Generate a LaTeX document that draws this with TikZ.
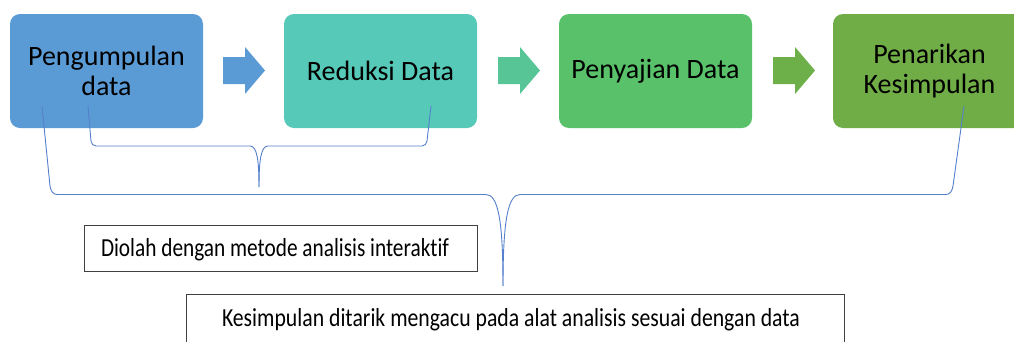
\documentclass[tikz,border=0pt]{standalone}
\usepackage{fontspec}
\usepackage{graphicx}
\setmainfont{Carlito}
\newfontfamily\noligfont[Ligatures=NoCommon]{Carlito}
\definecolor{cblue}{HTML}{5B9BD5}
\definecolor{cteal}{HTML}{56C9B8}
\definecolor{cgreen}{HTML}{58C16A}
\definecolor{colive}{HTML}{70AD47}
\definecolor{ablue}{HTML}{5B9BD5}
\definecolor{ateal}{HTML}{58C596}
\definecolor{aolive}{HTML}{6DB04A}
\definecolor{brace}{HTML}{5580CC}
\definecolor{frame}{HTML}{404040}
\newcommand{\condtext}[2]{\resizebox{#1}{\height}{\noligfont\fontsize{26}{30}\selectfont #2}}
\tikzset{
  stepbox/.style={rectangle, rounded corners=10pt, minimum width=193pt, minimum height=114pt,
    inner sep=0pt, align=center, font=\fontsize{28}{30}\selectfont, text=black},
  notebox/.style={rectangle, draw=frame, line width=0.9pt, inner sep=0pt, text=black},
  bracel/.style={draw=brace, line width=0.9pt},
}
\newcommand{\blockarrow}[3]{% #1 x start, #2 colour, #3 name
  \fill[#2] (#1,57) -- (#1+22,57) -- (#1+22,47) -- (#1+42,70.5) -- (#1+22,94) -- (#1+22,84) -- (#1,84) -- cycle;
  \coordinate (#3) at (#1+21,70.5);
}
\begin{document}
\begin{tikzpicture}[x=1pt,y=-1pt]
\useasboundingbox (0,0) rectangle (1014,341);
\clip (0,0) rectangle (1014,341);
\node[stepbox, fill=cblue] (b1) at (106.5,71) {Pengumpulan\\data};
\node[stepbox, fill=cteal] (b2) at (380.5,71) {Reduksi Data};
\node[stepbox, fill=cgreen] (b3) at (655.5,71) {Penyajian Data};
\node[stepbox, fill=colive] (b4) at (929.5,71) {Penarikan\\Kesimpulan};
\blockarrow{223}{ablue}{a1}
\blockarrow{498}{ateal}{a2}
\blockarrow{773}{aolive}{a3}
% inner brace
\coordinate (i1) at (88,106);
\coordinate (i2) at (431,106);
\coordinate (ic) at (259,187);
\draw[bracel] (i1) -- (91,141) to[out=-85,in=180] (96,146) -- (250,146)
  .. controls (257,146) and (259,160) .. (ic);
\draw[bracel] (ic) .. controls (259,160) and (261,146) .. (268,146) -- (422,146)
  to[out=0,in=-95] (427,141) -- (i2);
% outer brace
\coordinate (o1) at (42,106);
\coordinate (o2) at (964,106);
\coordinate (oc) at (503,286);
\draw[bracel] (o1) -- (50,186) to[out=-80,in=180] (57,194.5) -- (486,194.5)
  .. controls (498,194.5) and (503,220) .. (oc);
\draw[bracel] (oc) .. controls (503,220) and (508,194.5) .. (520,194.5) -- (946,194.5)
  to[out=0,in=-100] (953,186) -- (o2);
\node[notebox, minimum width=393pt, minimum height=46pt] (n1) at (280.5,248) {};
\node[inner sep=0pt, anchor=base] (t1) at (275,256.5) {\condtext{348pt}{Diolah dengan metode analisis interaktif}};
\draw[frame, line width=0.9pt, fill=white] (186,294) rectangle (844,350);
\node[inner sep=0pt, anchor=base] (n2) at (511,326) {\condtext{578pt}{Kesimpulan ditarik mengacu pada alat analisis sesuai dengan data}};
\end{tikzpicture}
\end{document}
